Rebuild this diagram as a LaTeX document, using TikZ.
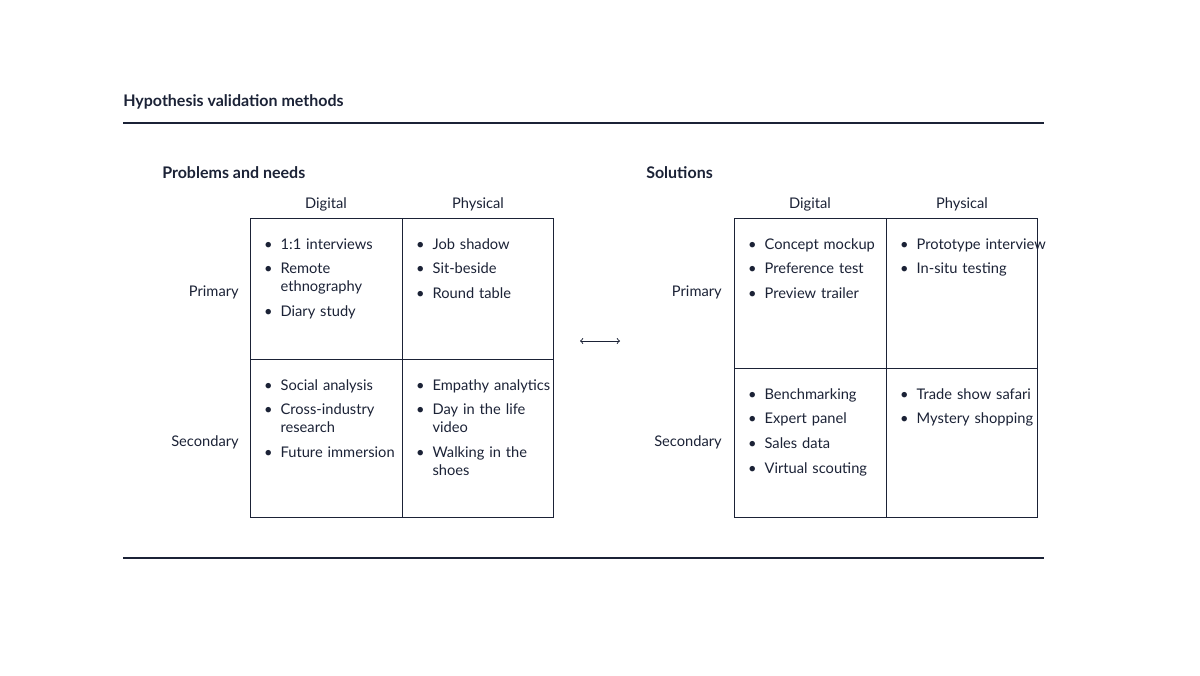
\documentclass[tikz,border=0pt]{standalone}
\usepackage{fontspec}
\setmainfont{Lato}
\usepackage{enumitem}
\usetikzlibrary{positioning}
\definecolor{ink}{HTML}{1B2236}
\setlist[itemize]{label=\textbullet, leftmargin=13pt, labelsep=6pt, itemsep=5pt, topsep=0pt, parsep=0pt, partopsep=0pt}
\tikzset{>=latex}
\begin{document}
\begin{tikzpicture}[x=0.75pt, y=-0.75pt, every node/.style={text=ink, font=\fontsize{11}{13.5}\selectfont},
            cell/.style={anchor=north west, inner sep=0pt, text width=112pt, align=left},
            head/.style={anchor=base west, inner sep=0pt, font=\fontsize{12}{14}\selectfont\bfseries},
            col/.style={anchor=base, inner sep=0pt},
            row/.style={anchor=base east, inner sep=0pt},
            rule/.style={draw=ink, line width=0.9pt}
        ]
        \useasboundingbox (0,0) rectangle (1200,675);
        \node[head] (title) at (123,106) {Hypothesis validation methods};
        \draw[rule] (123,123) -- (1044,123);
        \draw[rule] (123,558) -- (1044,558);
        % problems and needs
        \node[head] (probhead) at (162,178) {Problems and needs};
        \draw[ink, line width=0.7pt] (250,218) rectangle (553,517);
        \draw[ink, line width=0.7pt] (402,218) -- (402,517);
        \draw[ink, line width=0.7pt] (250,359) -- (553,359);
        \node[col] (pdig) at (326,208) {Digital};
        \node[col] (pphy) at (478,208) {Physical};
        \node[row] (pprim) at (239,296) {Primary};
        \node[row] (psec) at (239,446) {Secondary};
        \node[cell] (p11) at (263,231) {\begin{itemize}\item 1:1 interviews\item Remote ethnography\item Diary study\end{itemize}};
        \node[cell] (p12) at (415,231) {\begin{itemize}\item Job shadow\item Sit-beside\item Round table\end{itemize}};
        \node[cell] (p21) at (263,372) {\begin{itemize}\item Social analysis\item Cross-industry research\item Future immersion\end{itemize}};
        \node[cell] (p22) at (415,372) {\begin{itemize}\item Empathy analytics\item Day in the life video\item Walking in the shoes\end{itemize}};
        % link
        \coordinate (la) at (580,341);
        \coordinate (lb) at (620,341);
        \draw[ink, line width=0.7pt, <->, >=to] (la) -- (lb);
        % solutions
        \node[head] (solhead) at (646,178) {Solutions};
        \draw[ink, line width=0.7pt] (734,218) rectangle (1037,517);
        \draw[ink, line width=0.7pt] (886,218) -- (886,517);
        \draw[ink, line width=0.7pt] (734,368) -- (1037,368);
        \node[col] (sdig) at (810,208) {Digital};
        \node[col] (sphy) at (962,208) {Physical};
        \node[row] (sprim) at (722,296) {Primary};
        \node[row] (ssec) at (722,446) {Secondary};
        \node[cell] (s11) at (747,231) {\begin{itemize}\item Concept mockup\item Preference test\item Preview trailer\end{itemize}};
        \node[cell] (s12) at (899,231) {\begin{itemize}\item Prototype interview\item In-situ testing\end{itemize}};
        \node[cell] (s21) at (747,381) {\begin{itemize}\item Benchmarking\item Expert panel\item Sales data\item Virtual scouting\end{itemize}};
        \node[cell] (s22) at (899,381) {\begin{itemize}\item Trade show safari\item Mystery shopping\end{itemize}};
        \end{tikzpicture}
\end{document}
